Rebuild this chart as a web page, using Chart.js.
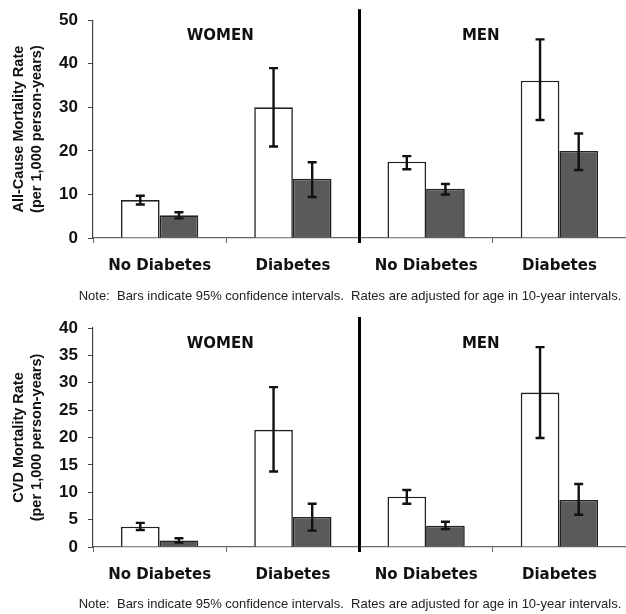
<!DOCTYPE html>
<html lang="en">
  <head>
    <meta charset="UTF-8" />
    <title>Mortality Rates by Diabetes Status</title>
    <script src="https://cdn.jsdelivr.net/npm/chart.js"></script>
    <style>
      body { margin: 0; background: #fff; }
      canvas { display: block; }
    </style>
  </head>
  <body>
    <canvas id="allCauseChart" width="626" height="307"></canvas>
    <canvas id="cvdChart" width="626" height="307"></canvas>
    <script>
      const categories = ["No Diabetes", "Diabetes", "No Diabetes", "Diabetes"];
      const groups = ["WOMEN", "MEN"];
      const note = "Note:  Bars indicate 95% confidence intervals.  Rates are adjusted for age in 10-year intervals.";

      // all-cause mortality (per 1,000 person-years), women ND, women D, men ND, men D
      const allCauseWhite = [8.7, 30.0, 17.5, 36.1];
      const allCauseWhiteLow = [7.7, 21.0, 15.8, 27.1];
      const allCauseWhiteHigh = [9.7, 39.0, 18.8, 45.6];
      const allCauseGray = [5.2, 13.6, 11.3, 20.0];
      const allCauseGrayLow = [4.5, 9.4, 10.0, 15.6];
      const allCauseGrayHigh = [5.9, 17.4, 12.4, 24.0];

      // CVD mortality (per 1,000 person-years)
      const cvdWhite = [3.7, 21.4, 9.2, 28.2];
      const cvdWhiteLow = [3.1, 13.8, 7.9, 19.9];
      const cvdWhiteHigh = [4.4, 29.2, 10.4, 36.5];
      const cvdGray = [1.2, 5.5, 3.9, 8.6];
      const cvdGrayLow = [0.8, 3.0, 3.3, 5.9];
      const cvdGrayHigh = [1.6, 7.9, 4.6, 11.5];

      const allCauseTicks = { max: 50, step: 10 };
      const cvdTicks = { max: 40, step: 5 };

      // error bars, divider line, group labels, y title and note
      const panelDecor = {
        id: "panelDecor",
        afterDatasetsDraw(chart) {
          const ctx = chart.ctx;
          const y = chart.scales.y;
          chart.data.datasets.forEach((ds, i) => {
            const meta = chart.getDatasetMeta(i);
            meta.data.forEach((bar, j) => {
              const top = y.getPixelForValue(ds.high[j]);
              const bot = y.getPixelForValue(ds.low[j]);
              ctx.save();
              ctx.strokeStyle = "#111";
              ctx.lineWidth = 2.4;
              ctx.beginPath();
              ctx.moveTo(bar.x, top);
              ctx.lineTo(bar.x, bot);
              ctx.moveTo(bar.x - 4.5, top);
              ctx.lineTo(bar.x + 4.5, top);
              ctx.moveTo(bar.x - 4.5, bot);
              ctx.lineTo(bar.x + 4.5, bot);
              ctx.stroke();
              ctx.restore();
            });
          });
        },
        afterDraw(chart, args, opts) {
          const ctx = chart.ctx;
          const area = chart.chartArea;
          const x = chart.scales.x;
          const mid = (x.getPixelForValue(1) + x.getPixelForValue(2)) / 2;

          ctx.save();
          ctx.strokeStyle = "#000";
          ctx.lineWidth = 3;
          ctx.beginPath();
          ctx.moveTo(mid, area.top - 11);
          ctx.lineTo(mid, area.bottom + 5);
          ctx.stroke();

          ctx.fillStyle = "#111";
          ctx.textAlign = "center";
          ctx.textBaseline = "middle";
          ctx.font = "bold 15px 'DejaVu Sans'";
          const wx = (x.getPixelForValue(0) + x.getPixelForValue(1)) / 2 - 6;
          const mx = (x.getPixelForValue(2) + x.getPixelForValue(3)) / 2 - 12;
          ctx.fillText(groups[0], wx, area.top + 16);
          ctx.fillText(groups[1], mx, area.top + 16);

          // two line rotated y title
          const cy = (area.top + area.bottom) / 2;
          ctx.font = "bold 14.5px 'Liberation Sans'";
          opts.title.forEach((line, k) => {
            ctx.save();
            ctx.translate(19 + k * 18, cy);
            ctx.rotate(-Math.PI / 2);
            ctx.fillText(line, 0, 0);
            ctx.restore();
          });

          ctx.font = "13px 'Liberation Sans'";
          ctx.fillStyle = "#222";
          ctx.fillText(note, 350, chart.height - opts.noteGap);
          ctx.restore();
        },
      };

      function makeChart(id, white, whiteLow, whiteHigh, gray, grayLow, grayHigh, ticks, title, layout) {
        return new Chart(document.getElementById(id), {
          type: "bar",
          data: {
            labels: categories,
            datasets: [
              {
                label: "White",
                data: white,
                low: whiteLow,
                high: whiteHigh,
                backgroundColor: "#ffffff",
                borderColor: "#222",
                borderWidth: 1.6,
                barPercentage: 1,
                categoryPercentage: 0.58,
              },
              {
                label: "Gray",
                data: gray,
                low: grayLow,
                high: grayHigh,
                backgroundColor: "#5a5a5a",
                borderColor: "#222",
                borderWidth: 1.6,
                barPercentage: 1,
                categoryPercentage: 0.58,
              },
            ],
          },
          options: {
            responsive: false,
            animation: false,
            layout: { padding: { top: layout.top, right: 0, left: 0, bottom: 0 } },
            plugins: {
              legend: { display: false },
              tooltip: { enabled: false },
              panelDecor: { title: title, noteGap: layout.noteGap },
            },
            scales: {
              x: {
                ticks: {
                  color: "#111",
                  padding: 14,
                  font: { family: "DejaVu Sans", size: 15, weight: "bold" },
                },
                grid: { drawOnChartArea: false, tickLength: 5, offset: true, color: "#666" },
                border: { color: "#666", width: 1.2 },
                afterFit: (s) => { s.height = layout.xHeight; },
              },
              y: {
                min: 0,
                max: ticks.max,
                ticks: {
                  stepSize: ticks.step,
                  color: "#111",
                  padding: 10,
                  font: { family: "Liberation Sans", size: 17, weight: "bold" },
                },
                grid: { drawOnChartArea: false, tickLength: 5, color: "#444" },
                border: { color: "#444", width: 1.2 },
                afterFit: (s) => { s.width = 93; },
              },
            },
          },
          plugins: [panelDecor],
        });
      }

      makeChart("allCauseChart", allCauseWhite, allCauseWhiteLow, allCauseWhiteHigh,
        allCauseGray, allCauseGrayLow, allCauseGrayHigh, allCauseTicks,
        ["All-Cause Mortality Rate", "(per 1,000 person-years)"],
        { top: 20, xHeight: 69, noteGap: 11 });

      makeChart("cvdChart", cvdWhite, cvdWhiteLow, cvdWhiteHigh,
        cvdGray, cvdGrayLow, cvdGrayHigh, cvdTicks,
        ["CVD Mortality Rate", "(per 1,000 person-years)"],
        { top: 21, xHeight: 67, noteGap: 10 });
    </script>
  </body>
</html>
